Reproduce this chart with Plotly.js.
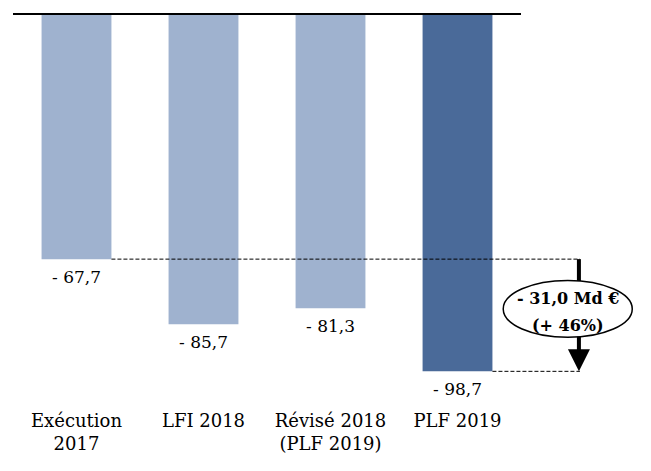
<!DOCTYPE html>
<html>
<head>
<meta charset="utf-8">
<script src="https://cdn.plot.ly/plotly-3.0.1.min.js"></script>
<style>html,body{margin:0;padding:0;background:#fff;}</style>
</head>
<body>
<div id="chart" style="width:651px;height:471px;"></div>
<script>
var categories = ["Exécution<br>2017", "LFI 2018", "Révisé 2018<br>(PLF 2019)", "PLF 2019"];
var values = [-67.7, -85.7, -81.3, -98.7];
var barColors = ["#9fb2cf", "#9fb2cf", "#9fb2cf", "#4a6a99"];

var fmt = function (v) { return "- " + Math.abs(v).toFixed(1).replace(".", ","); };
var labels = values.map(fmt);

var first = values[0], last = values[values.length - 1];
var diff = Math.abs(last - first);
var pct = Math.round(diff / Math.abs(first) * 100);
var boxLine1 = "<b>- " + diff.toFixed(1).replace(".", ",") + " Md €</b>";
var boxLine2 = "<b>(+ " + pct + "%)</b>";

var FONT = "DejaVu Serif, Liberation Serif, serif";
var barWidth = 0.55;
var n = categories.length;
var xPaper = function (i) { return (i + barWidth / 2 + 0.5) / n; };
var xEnd = 1.116;
var xArrow = 1.114;

var trace = {
  type: "bar",
  x: categories,
  y: values,
  width: barWidth,
  marker: {color: barColors, line: {width: 0}},
  hoverinfo: "none"
};

var valueAnnotations = categories.map(function (c, i) {
  return {xref: "x", yref: "y", x: c, y: values[i], yanchor: "top", xanchor: "center",
          yshift: -6, showarrow: false, text: labels[i],
          font: {family: FONT, size: 17, color: "#000"}};
});

var layout = {
  width: 651, height: 471,
  margin: {l: 13, r: 130, t: 13, b: 66},
  paper_bgcolor: "#fff", plot_bgcolor: "#fff",
  showlegend: false,
  font: {family: FONT, size: 17, color: "#000"},
  xaxis: {
    range: [-0.5, n - 0.5],
    showgrid: false, zeroline: false, showline: false,
    ticks: "", ticklabelstandoff: 3,
    tickfont: {family: FONT, size: 18, color: "#000"}
  },
  yaxis: {
    range: [-108, 0.3],
    visible: false
  },
  shapes: [
    {type: "line", xref: "paper", yref: "y", x0: 0, x1: 1, y0: 0, y1: 0,
     line: {color: "#000", width: 2}, layer: "above"},
    {type: "line", xref: "paper", yref: "y", x0: xPaper(0), x1: xEnd, y0: first, y1: first,
     line: {color: "#000", width: 1, dash: "4px,2px"}},
    {type: "line", xref: "paper", yref: "y", x0: xPaper(n - 1), x1: xEnd, y0: last, y1: last,
     line: {color: "#000", width: 1, dash: "4px,2px"}},
    {type: "line", xref: "paper", yref: "y", x0: xArrow, x1: xArrow, y0: first, y1: -74,
     line: {color: "#000", width: 4}},
    {type: "circle", xref: "paper", yref: "y", x0: 0.965, x1: 1.219, y0: -73.6, y1: -89.3,
     line: {color: "#000", width: 1.5}, fillcolor: "#fff", layer: "above"}
  ],
  annotations: valueAnnotations.concat([
    {xref: "paper", yref: "y", x: xArrow, y: last, ax: 0, ay: -36,
     showarrow: true, arrowhead: 2, arrowsize: 1.1, arrowwidth: 4, arrowcolor: "#000", text: ""},
    {xref: "paper", yref: "y", x: 1.092, y: -78.6, xanchor: "center", yanchor: "middle",
     showarrow: false, text: boxLine1, font: {family: FONT, size: 16, color: "#000"}},
    {xref: "paper", yref: "y", x: 1.092, y: -86.0, xanchor: "center", yanchor: "middle",
     showarrow: false, text: boxLine2, font: {family: FONT, size: 16, color: "#000"}}
  ])
};

Plotly.newPlot("chart", [trace], layout, {displayModeBar: false, staticPlot: true});
</script>
</body>
</html>
